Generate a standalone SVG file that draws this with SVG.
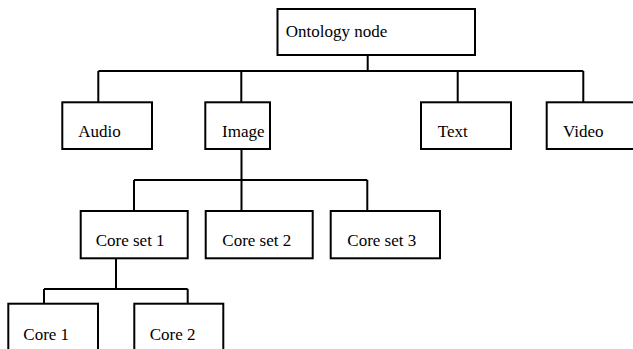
<svg xmlns="http://www.w3.org/2000/svg" width="633" height="349" viewBox="0 0 633 349">
<style>
.box{fill:#fff;stroke:#000;stroke-width:2}
.c{fill:none;stroke:#000;stroke-width:2}
text{font-family:"Liberation Serif","Times New Roman",serif;font-size:17px;fill:#000}
</style>
<rect width="633" height="349" fill="#fff"/>
<g id="connectors">
<path class="c" d="M367.7 55V71M98.3 71H583.3M98.3 71V102.3M241.3 71V102.3M457.7 71V102.3M583.3 71V102.3"/>
<path class="c" d="M241.5 149V180M134 180H367.3M134 180V211M241.5 180V211M367.3 180V211"/>
<path class="c" d="M116 258.3V289M44 289H187.7M44 289V303.7M187.7 289V303.7"/>
</g>
<g id="ontology"><rect class="box" x="277.5" y="9" width="197.5" height="46"/><text x="285.7" y="37">Ontology node</text></g>
<g id="audio"><rect class="box" x="62.3" y="102.3" width="89.7" height="46.7"/><text x="78.3" y="137">Audio</text></g>
<g id="image"><rect class="box" x="205.3" y="102.3" width="64.7" height="46.7"/><text x="222" y="137">Image</text></g>
<g id="text"><rect class="box" x="421" y="102.3" width="90" height="46.7"/><text x="437.7" y="137">Text</text></g>
<g id="video"><rect class="box" x="546.7" y="102.3" width="100" height="46.7"/><text x="563" y="137">Video</text></g>
<g id="coreset1"><rect class="box" x="80.7" y="211" width="107" height="47.3"/><text x="95.7" y="246">Core set 1</text></g>
<g id="coreset2"><rect class="box" x="205.7" y="211" width="107" height="47.3"/><text x="222.3" y="246">Core set 2</text></g>
<g id="coreset3"><rect class="box" x="330.7" y="211" width="109.3" height="47.3"/><text x="347.3" y="246">Core set 3</text></g>
<g id="core1"><rect class="box" x="8.3" y="303.7" width="89.7" height="60"/><text x="23.3" y="340">Core 1</text></g>
<g id="core2"><rect class="box" x="134.3" y="303.7" width="89" height="60"/><text x="149.7" y="340">Core 2</text></g>
</svg>
